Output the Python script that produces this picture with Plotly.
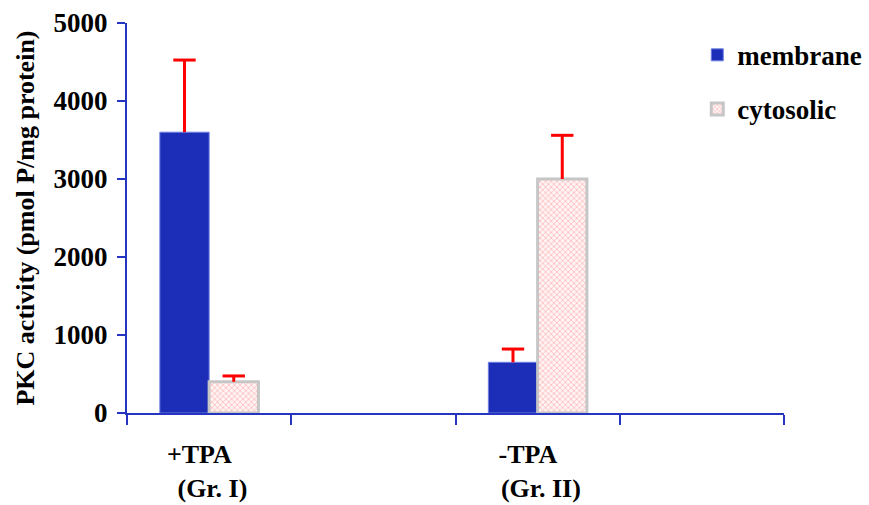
import plotly.graph_objects as go

groups = ["+TPA&nbsp;&nbsp;&nbsp;<br> (Gr. I)", "-TPA&nbsp;&nbsp;&nbsp;<br> (Gr. II)"]
group_pos = [0, 2]
membrane = [3600, 650]
membrane_err = [925, 170]
cytosolic = [400, 3000]
cytosolic_err = [75, 560]
y_ticks = [0, 1000, 2000, 3000, 4000, 5000]
slot_edges = [-0.5, 0.5, 1.5, 2.5, 3.5]

bar_w = 0.3
axis_blue = "#2535c0"
err_red = "#ff0000"
font_family = "Liberation Serif"
FS = 27

fig = go.Figure()
fig.add_trace(go.Bar(
    name="membrane", x=group_pos, y=membrane, width=bar_w, offset=-bar_w,
    marker=dict(color="#1c2db8", line=dict(color="#6f7fe0", width=1)),
    error_y=dict(type="data", symmetric=False, array=membrane_err,
                 arrayminus=[0, 0], color=err_red, thickness=3, width=0),
    legendgroup="a",
))
fig.add_trace(go.Bar(
    name="cytosolic", x=group_pos, y=cytosolic, width=bar_w, offset=0,
    marker=dict(color="#fff4f4", line=dict(color="#c6c6c6", width=3),
                pattern=dict(shape="x", fgcolor="#ff7a7a", bgcolor="#fff4f4",
                             size=4, solidity=0.35)),
    error_y=dict(type="data", symmetric=False, array=cytosolic_err,
                 arrayminus=[0, 0], color=err_red, thickness=3, width=0),
    legendgroup="b",
))
# error-bar caps (top only)
fig.add_trace(go.Scatter(
    x=[p - bar_w / 2 for p in group_pos],
    y=[v + e for v, e in zip(membrane, membrane_err)],
    mode="markers", showlegend=False, hoverinfo="skip",
    marker=dict(symbol="line-ew", size=16, line=dict(color=err_red, width=3)),
))
fig.add_trace(go.Scatter(
    x=[p + bar_w / 2 for p in group_pos],
    y=[v + e for v, e in zip(cytosolic, cytosolic_err)],
    mode="markers", showlegend=False, hoverinfo="skip",
    marker=dict(symbol="line-ew", size=16, line=dict(color=err_red, width=3)),
))

fig.update_layout(
    width=869, height=505,
    margin=dict(l=127, r=85, t=23, b=92, autoexpand=False),
    paper_bgcolor="white", plot_bgcolor="white",
    font=dict(family=font_family, size=FS, color="black", weight="bold"),
    barmode="overlay",
    showlegend=True,
    legend=dict(x=0.868, y=0.98, xanchor="left", yanchor="top",
                traceorder="grouped", tracegroupgap=16,
                font=dict(size=FS, family=font_family, weight="bold"),
                bgcolor="rgba(0,0,0,0)", itemwidth=30),
    xaxis=dict(
        range=[-0.5, 3.5], tickmode="array", tickvals=group_pos, ticktext=groups,
        ticks="", showgrid=False, zeroline=False, automargin=False,
        showline=True, linecolor=axis_blue, linewidth=2,
        tickfont=dict(size=26, family=font_family, weight="bold"),
        minor=dict(tickmode="array", tickvals=slot_edges, ticks="outside",
                   ticklen=10, tickwidth=2, tickcolor=axis_blue, showgrid=False),
        ticklabelstandoff=17,
    ),
    yaxis=dict(
        range=[0, 5000], tickmode="array", tickvals=y_ticks,
        ticks="outside", ticklen=8, tickwidth=2, tickcolor=axis_blue,
        showgrid=False, zeroline=False, automargin=False,
        showline=True, linecolor=axis_blue, linewidth=2,
        tickfont=dict(size=FS, family=font_family, weight="bold"),
        ticklabelstandoff=4,
        title=dict(text="PKC activity (pmol P/mg protein)",
                   font=dict(size=26, family=font_family, weight="bold"),
                   standoff=11),
    ),
)

fig.write_html(
    "out.html",
    config={"displayModeBar": False},
    post_script=(
        "document.documentElement.style.margin='0';"
        "document.body.style.margin='0';"
        "document.body.style.overflow='hidden';"
    ),
)
